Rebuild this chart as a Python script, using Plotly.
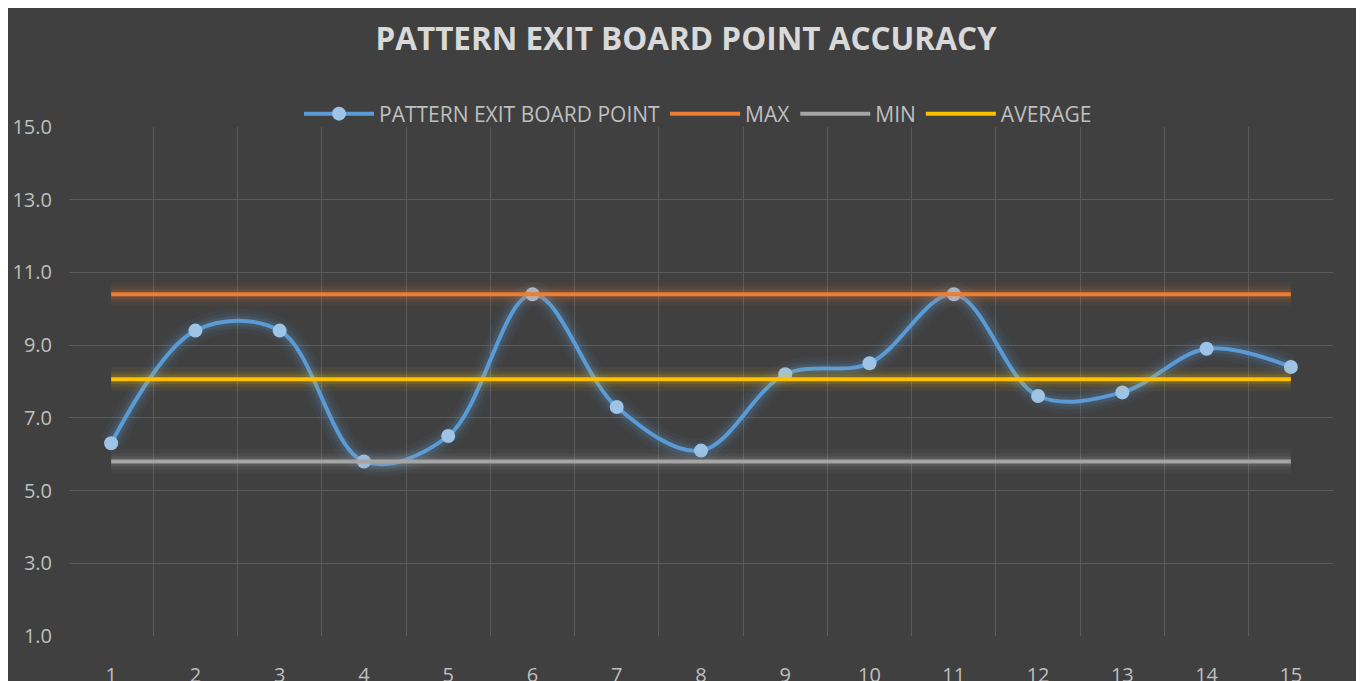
import plotly.graph_objects as go

categories = list(range(1, 16))
pattern_values = [6.3, 9.4, 9.4, 5.8, 6.5, 10.4, 7.3, 6.1, 8.2, 8.5, 10.4, 7.6, 7.7, 8.9, 8.4]
max_value = max(pattern_values)
min_value = min(pattern_values)
avg_value = sum(pattern_values) / len(pattern_values)
max_values = [max_value] * len(categories)
min_values = [min_value] * len(categories)
avg_values = [avg_value] * len(categories)
y_ticks = [1, 3, 5, 7, 9, 11, 13, 15]

BG = "#404040"
TXT = "#bfbfbf"
FONT = "Open Sans"

fig = go.Figure()

def glow(y, color, shape="linear"):
    for w, a in [(24, 0.05), (16, 0.08), (10, 0.14)]:
        fig.add_trace(go.Scatter(
            x=categories, y=y, mode="lines", showlegend=False, hoverinfo="skip",
            line=dict(color=color, width=w, shape=shape, smoothing=1.0), opacity=a))

glow(pattern_values, "#5B9BD5", "spline")
fig.add_trace(go.Scatter(
    x=categories, y=pattern_values, mode="lines+markers", name="PATTERN EXIT BOARD POINT",
    line=dict(color="#5B9BD5", width=4, shape="spline", smoothing=1.0),
    marker=dict(color="#9DC3E6", size=14, line=dict(width=0))))

for vals, color, name in [(max_values, "#ED7D31", "MAX"),
                          (min_values, "#A5A5A5", "MIN"),
                          (avg_values, "#FFC000", "AVERAGE")]:
    glow(vals, color)
    fig.add_trace(go.Scatter(x=categories, y=vals, mode="lines", name=name,
                             line=dict(color=color, width=4)))

fig.update_layout(
    width=1364, height=681,
    paper_bgcolor=BG, plot_bgcolor=BG,
    margin=dict(l=61, r=39, t=119, b=53),
    title=dict(text="<b>PATTERN EXIT BOARD POINT ACCURACY</b>", x=0.5 - 4 / 1364, xanchor="center",
               y=1 - 31 / 681, yanchor="middle",
               font=dict(family=FONT, size=31.5, color="#d9d9d9")),
    legend=dict(orientation="h", x=0.5 - 3 / 1264, xanchor="center", y=1 + 13 / 509, yanchor="middle",
                font=dict(family=FONT, size=21, color=TXT), bgcolor="rgba(0,0,0,0)",
                itemwidth=70, tracegroupgap=0),
    font=dict(family=FONT, color=TXT),
    xaxis=dict(range=[0.5, 15.5], tickvals=categories, ticktext=[str(c) for c in categories],
               showgrid=False, zeroline=False, showline=False, ticks="", automargin=False,
               tickfont=dict(family=FONT, size=20, color=TXT), ticklabelstandoff=25,
               minor=dict(tickvals=[c + 0.5 for c in range(0, 16)], showgrid=True,
                          gridcolor="#5a5a5a", gridwidth=1, ticks="")),
    yaxis=dict(range=[1, 15], tickvals=y_ticks, ticktext=[f"{v:.1f}" for v in y_ticks],
               showgrid=True, gridcolor="#5a5a5a", gridwidth=1, zeroline=False,
               showline=False, ticks="", automargin=False,
               tickfont=dict(family=FONT, size=20, color=TXT),
               ticklabelstandoff=16),
)

fig.write_html("out.html")
